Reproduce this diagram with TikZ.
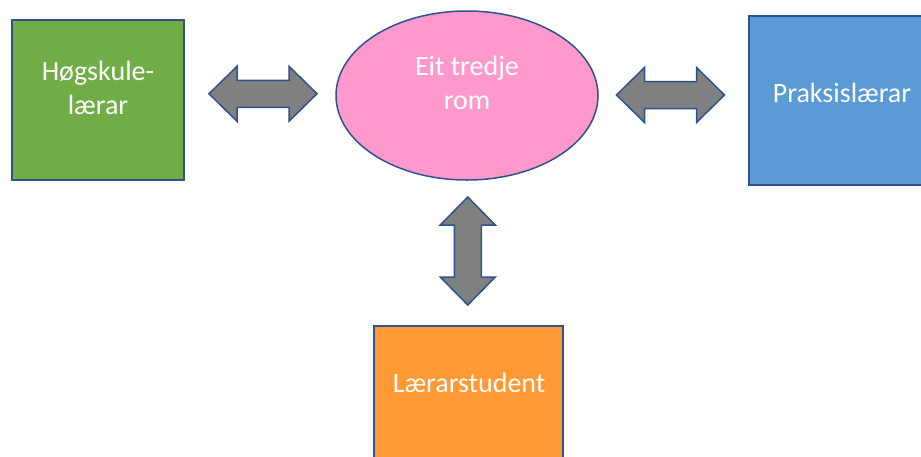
\documentclass[tikz,border=0pt]{standalone}
\usepackage{fontspec}
\setmainfont{Carlito}
\usetikzlibrary{calc,shapes.geometric}

\definecolor{outline}{HTML}{2F528F}
\definecolor{grassgreen}{HTML}{70AD47}
\definecolor{skyblue}{HTML}{5B9BD5}
\definecolor{warmorange}{HTML}{FF9933}
\definecolor{rosepink}{HTML}{FF99CC}
\definecolor{arrowgray}{HTML}{808080}

\tikzset{
  shapebox/.style={draw=outline, line width=1.5pt, inner sep=0pt},
  txt/.style={text=white, font=\fontsize{28}{34}\selectfont, align=center, inner sep=0pt},
  blockarrow/.style={draw=outline, line width=1.5pt, fill=arrowgray, line join=miter},
  dblarrow/.pic={
    \path[blockarrow] (-54,0) -- (-26,-27.5) -- (-26,-13.5) -- (26,-13.5)
      -- (26,-27.5) -- (54,0) -- (26,27.5) -- (26,13.5) -- (-26,13.5)
      -- (-26,27.5) -- cycle;
  }
}

\begin{document}
\begin{tikzpicture}[x=1pt, y=-1pt]
  \useasboundingbox (0,0) rectangle (921,456);
  \clip (0,0) rectangle (921,456);

  % the four parties
  \node[shapebox, rectangle, fill=grassgreen, minimum width=172pt, minimum height=160pt]
    (hogskule) at (98,100) {};
  \node[shapebox, ellipse, fill=rosepink, minimum width=262pt, minimum height=169pt]
    (rom) at (467,95.5) {};
  \node[shapebox, rectangle, fill=skyblue, minimum width=186pt, minimum height=169pt]
    (praksis) at (842,100.5) {};
  \node[shapebox, rectangle, fill=warmorange, minimum width=189pt, minimum height=150pt]
    (student) at (468.5,401) {};

  % labels
  \node[txt] (hogskule-t) at (98,88) {Høgskule-\\lærar};
  \node[txt] (rom-t) at (467,83) {Eit tredje\\rom};
  \node[txt, anchor=base] (praksis-t) at (842,102) {Praksislærar};
  \node[txt, anchor=base] (student-t) at (469,392) {Lærarstudent};

  % two-way block arrows between the parties
  \pic at ($(hogskule.east)!0.5!(rom.west)+(3,-4)$) {dblarrow};
  \pic at ($(rom.east)!0.5!(praksis.west)+(-3,-3)$) {dblarrow};
  \pic[rotate=90] at ($(rom.south)!0.5!(student.north)+(0,-2)$) {dblarrow};
\end{tikzpicture}
\end{document}
